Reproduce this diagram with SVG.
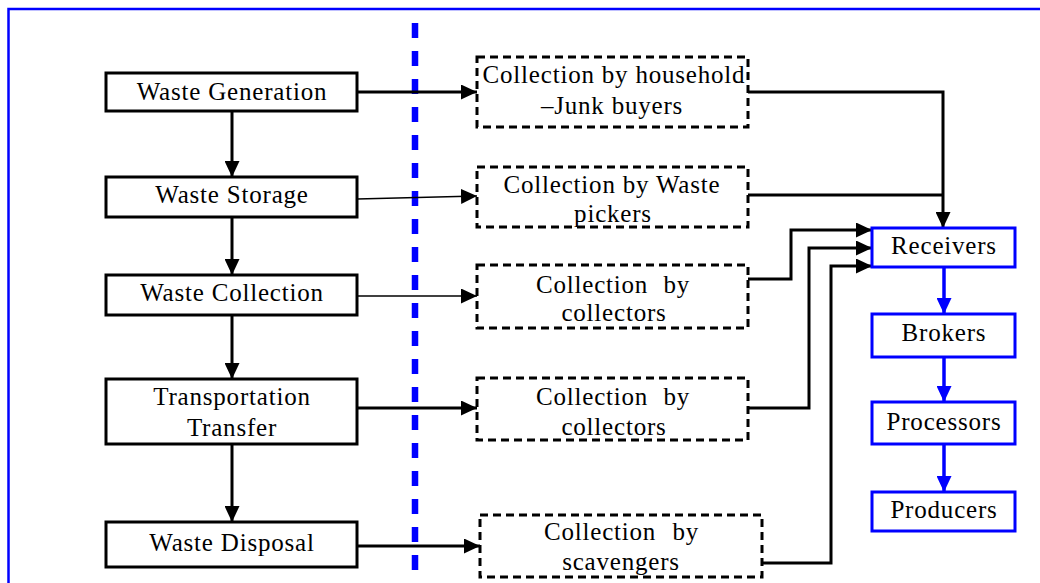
<svg xmlns="http://www.w3.org/2000/svg" width="1040" height="583" viewBox="0 0 1040 583">
<defs>
<style>
text{font-family:"Liberation Serif","Times New Roman",serif;font-size:25px;fill:#000;text-anchor:middle;letter-spacing:0.8px}
.lb{fill:#fff;stroke:#000;stroke-width:3}
.mb{fill:#fff;stroke:#000;stroke-width:3;stroke-dasharray:8 5}
.rb{fill:#fff;stroke:#0000ff;stroke-width:3}
.c{fill:none;stroke:#000;stroke-width:3}
.t{fill:none;stroke:#000;stroke-width:1.5}
.b{fill:none;stroke:#0000ff;stroke-width:3.5}
</style>
<marker id="ah" markerWidth="16" markerHeight="15" refX="16" refY="7.5" orient="auto" markerUnits="userSpaceOnUse"><path d="M0,0 L16,7.5 L0,15 z" fill="#000"/></marker>
<marker id="bh" markerWidth="16" markerHeight="15" refX="16" refY="7.5" orient="auto" markerUnits="userSpaceOnUse"><path d="M0,0 L16,7.5 L0,15 z" fill="#0000ff"/></marker>
</defs>
<rect x="0" y="0" width="1040" height="583" fill="#fff"/>
<rect x="8.5" y="9" width="1060" height="600" fill="none" stroke="#0000ff" stroke-width="2.5"/>
<line x1="415" y1="23" x2="415" y2="583" stroke="#0000ff" stroke-width="6.5" stroke-dasharray="15 13"/>

<g id="connectors">
<line class="c" x1="232" y1="111" x2="232" y2="177" marker-end="url(#ah)"/>
<line class="c" x1="232" y1="217" x2="232" y2="275" marker-end="url(#ah)"/>
<line class="c" x1="232" y1="315" x2="232" y2="379" marker-end="url(#ah)"/>
<line class="c" x1="232" y1="444" x2="232" y2="522" marker-end="url(#ah)"/>
<line class="c" x1="357" y1="92" x2="477" y2="92" marker-end="url(#ah)"/>
<line class="t" x1="357" y1="199" x2="477" y2="196" stroke-width="2" marker-end="url(#ah)"/>
<line class="t" x1="357" y1="296" x2="477" y2="296" marker-end="url(#ah)"/>
<line class="c" x1="357" y1="408" x2="477" y2="408" marker-end="url(#ah)"/>
<line class="c" x1="357" y1="546" x2="480" y2="546" marker-end="url(#ah)"/>
<polyline class="c" points="748,92 943,92 943,228" marker-end="url(#ah)"/>
<polyline class="c" points="748,195 943,195"/>
<polyline class="c" points="748,279 791,279 791,230 872,230" marker-end="url(#ah)"/>
<polyline class="c" points="748,408 809,408 809,248 872,248" marker-end="url(#ah)"/>
<polyline class="c" points="762,563 831,563 831,266 872,266" marker-end="url(#ah)"/>
<line class="b" x1="944" y1="267" x2="944" y2="314" marker-end="url(#bh)"/>
<line class="b" x1="944" y1="357" x2="944" y2="402" marker-end="url(#bh)"/>
<line class="b" x1="944" y1="444" x2="944" y2="492" marker-end="url(#bh)"/>
</g>

<g id="waste-generation"><rect class="lb" x="106" y="73" width="251" height="38"/><text x="232" y="100">Waste Generation</text></g>
<g id="waste-storage"><rect class="lb" x="106" y="177" width="251" height="40"/><text x="232" y="203">Waste Storage</text></g>
<g id="waste-collection"><rect class="lb" x="106" y="275" width="251" height="40"/><text x="232" y="301">Waste Collection</text></g>
<g id="transportation-transfer"><rect class="lb" x="106" y="379" width="251" height="65"/><text x="232" y="405">Transportation</text><text x="232" y="436">Transfer</text></g>
<g id="waste-disposal"><rect class="lb" x="106" y="522" width="251" height="45"/><text x="232" y="551">Waste Disposal</text></g>

<g id="collection-household"><rect class="mb" x="477" y="57" width="271" height="70"/><text x="614" y="83">Collection by household</text><text x="612" y="114">–Junk buyers</text></g>
<g id="collection-pickers"><rect class="mb" x="477" y="167" width="271" height="60"/><text x="612" y="193">Collection by Waste</text><text x="613" y="222">pickers</text></g>
<g id="collection-collectors-1"><rect class="mb" x="477" y="265" width="271" height="63"/><text x="536" y="293" style="text-anchor:start">Collection</text><text x="690" y="293" style="text-anchor:end">by</text><text x="614" y="321">collectors</text></g>
<g id="collection-collectors-2"><rect class="mb" x="477" y="378" width="271" height="62"/><text x="536" y="405" style="text-anchor:start">Collection</text><text x="690" y="405" style="text-anchor:end">by</text><text x="614" y="435">collectors</text></g>
<g id="collection-scavengers"><rect class="mb" x="480" y="515" width="282" height="62" stroke-width="2.5"/><text x="544" y="540" style="text-anchor:start">Collection</text><text x="699" y="540" style="text-anchor:end">by</text><text x="621" y="570">scavengers</text></g>

<g id="receivers"><rect class="rb" x="872" y="228" width="143" height="39"/><text x="944" y="254">Receivers</text></g>
<g id="brokers"><rect class="rb" x="872" y="314" width="143" height="43"/><text x="944" y="341">Brokers</text></g>
<g id="processors"><rect class="rb" x="872" y="402" width="143" height="42"/><text x="944" y="430">Processors</text></g>
<g id="producers"><rect class="rb" x="872" y="492" width="143" height="39"/><text x="944" y="518">Producers</text></g>
</svg>
